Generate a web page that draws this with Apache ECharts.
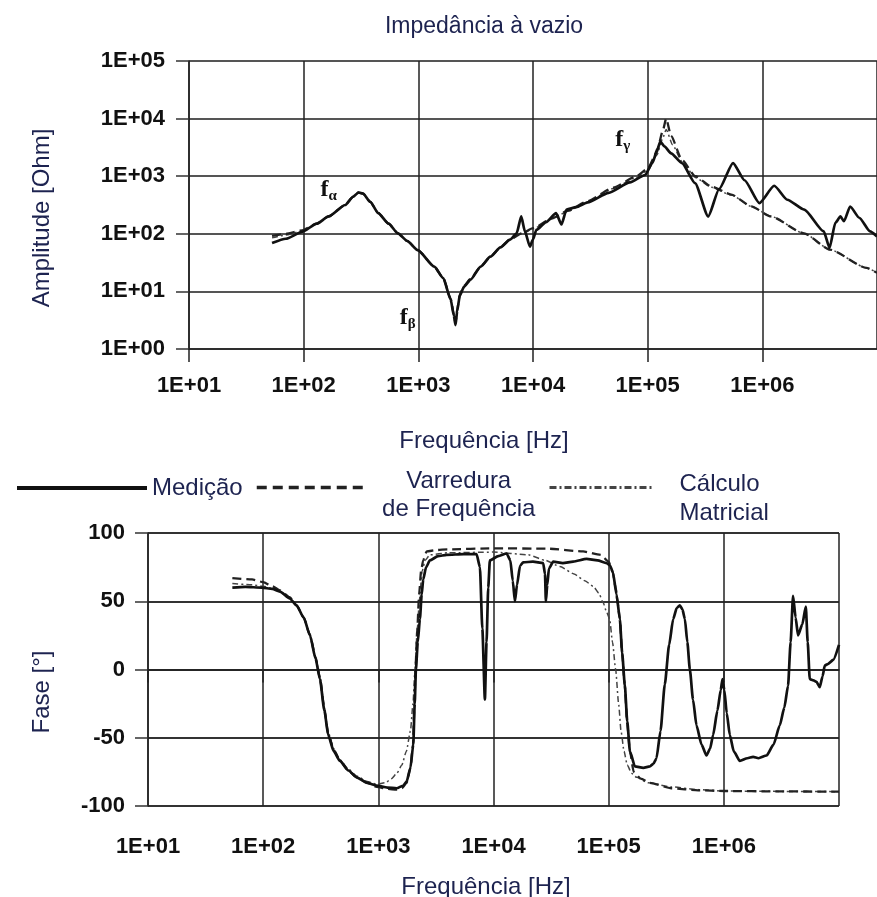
<!DOCTYPE html>
<html><head><meta charset="utf-8">
<script src="https://cdn.jsdelivr.net/npm/echarts@6/dist/echarts.min.js"></script>
<style>html,body{margin:0;padding:0;background:#fff}#c{width:877px;height:897px}</style>
</head><body><div id="c"></div>
<script>
// ---------- DATA (frequency in Hz) ----------
const seriesNames = ['Medição', 'Varredura de Frequência', 'Cálculo Matricial'];
const ampTicks = ['1E+00','1E+01','1E+02','1E+03','1E+04','1E+05'];
const freqTicks = ['1E+01','1E+02','1E+03','1E+04','1E+05','1E+06'];
const phaseTicks = [-100, -50, 0, 50, 100];

// Amplitude [Ohm] – Medição
const ampMedF = [53,70,97,130,165,230,270,300,330,380,447,550,664,800,988,1377,1650,1915,2040,2110,2180,2300,2500,2850,3500,4250,5200,6300,7200,7900,8500,9400,10000,10700,13000,15900,17700,19600,23800,30000,45700,70000,95000,110000,122000,129000,140000,160000,199000,259000,337000,420000,555000,700000,942000,1270000,1650000,2320000,3430000,3860000,4330000,4800000,5150000,5830000,7000000,8700000,10000000];
const ampMedV = [69,82,108,150,200,316,440,521,500,360,229,150,102,75,52,27,17,7.2,3.8,2.6,4.5,8.5,12,16,27,40,58,79,102,200,110,60,80,117,160,229,145,263,290,350,515,780,1050,1700,3000,4000,3300,2500,1690,760,200,600,1690,850,342,682,390,263,110,57,155,200,165,298,190,110,90];

// Amplitude – Varredura de Frequência
const ampVarF = [53,70,97,130,165,230,270,300,330,380,447,550,664,800,988,1377,1650,1915,2040,2110,2180,2300,2500,2850,3500,4250,5200,6300,8000,10000,15000,20000,30000,50000,80000,100000,120000,135000,145000,160000,199000,260000,360000,537000,800000,1190000,2300000,3900000,8100000,10000000];
const ampVarV = [92,100,115,150,200,316,440,521,500,360,229,150,102,75,52,27,17,7.5,4,2.8,4.8,8.8,12.5,16.5,27,40,58,80,102,125,190,250,370,630,1000,1350,2600,6000,10000,5000,1920,1000,660,480,300,200,102,53,25.6,21];

// Amplitude – Cálculo Matricial
const ampCalF = [53,70,97,130,165,230,270,300,330,380,447,550,664,800,988,1377,1650,1915,2040,2110,2180,2300,2500,2850,3500,4250,5200,6300,8000,10000,15000,20000,30000,50000,80000,100000,120000,135000,145000,165000,199000,260000,360000,537000,800000,1190000,2300000,3900000,8100000,10000000];
const ampCalV = [85,95,112,150,200,316,440,521,500,360,229,150,102,75,52,27,17,7.3,3.9,2.7,4.6,8.6,12.2,16.2,27,40,58,80,100,122,185,245,360,610,960,1250,2300,4500,6500,3500,1800,950,640,470,300,200,102,53,25.6,21];

// Fase [°] – Medição
const phMedF = [54,70,97,120,140,170,195,225,255,285,311,340,367,410,464,550,648,800,967,1200,1442,1650,1762,1900,2011,2070,2120,2200,2296,2380,2453,2600,2805,3300,3917,5500,7130,7620,8000,8420,8700,9000,9300,11000,13000,14000,14700,15350,16000,17000,18100,22000,27000,28000,28500,29300,30300,33000,40000,49200,64300,80000,96000,103000,109000,117000,125000,131000,138000,145000,153000,169000,200000,228000,245000,260000,282000,307000,335000,363000,390000,415000,437000,459000,482000,507000,540000,579000,640000,707000,760000,807000,880000,940000,973000,1010000,1060000,1127000,1220000,1377000,1600000,1796000,2000000,2350000,2700000,3060000,3350000,3610000,3800000,3990000,4200000,4410000,4800000,5150000,5350000,5570000,6000000,6370000,6800000,7200000,7530000,8000000,8900000,10000000];
const phMedV = [60,60.5,60,59,57,52,47,38,25,8,-7,-30,-48,-60,-67,-74,-79,-83,-85,-86.5,-87,-85,-82,-72,-55,-25,0,20,37,55,66,75,80,83,84,84.5,84.5,75,30,-22,20,60,80,83,85,80,65,50,62,76,78.5,79,78,70,50,62,74,79,78,79,81,80,78,76,71,55,37,12,-11,-38,-60,-71,-72,-71,-69,-65,-45,-11,18,37,45,47,44,37,20,0,-22,-41,-55,-63,-58,-48,-30,-15,-7,-15,-32,-48,-60,-67,-65,-64,-65,-63,-55,-41,-28,-12,20,54,38,25,33,46,20,-7,-8,-9,-13,-5,3,4,7,18];

// Fase – Varredura de Frequência
const phVarF = [54,80,100,120,140,170,195,225,255,285,311,340,367,410,464,550,648,800,967,1200,1442,1600,1760,1900,2000,2060,2100,2180,2260,2350,2450,2630,3200,4000,10000,30000,60000,85000,100000,108000,115000,120000,125000,131000,138000,145000,153000,165000,190000,228000,350000,600000,1000000,3000000,10000000];
const phVarV = [67,66,64,61,58,53,47,38,25,9,-6,-29,-47,-59,-67,-74,-79,-83,-86,-87.5,-88,-87,-83,-72,-55,-25,0,30,55,72,80,86.5,87.5,88,88.8,88.5,86.5,84,79,72,60,48,37,12,-12,-40,-60,-75,-80,-83,-87,-88.5,-89,-89.3,-89.5];

// Fase – Cálculo Matricial
const phCalF = [54,80,100,120,140,170,195,225,255,285,311,340,367,410,464,550,648,800,967,1150,1300,1450,1600,1750,1900,2000,2080,2180,2280,2400,2550,2800,4000,10000,20000,28000,37700,50000,62000,73500,82000,89600,96000,102000,108000,115000,122000,128000,136000,145000,158000,175000,220000,350000,600000,1000000,3000000,10000000];
const phCalV = [63,62,61,59.5,57,52,47,38,26,9,-5,-28,-46,-58,-66,-73,-78,-82,-84,-83,-80,-76,-70,-60,-45,-25,0,30,52,72,80,84,85.5,86,84,80,75.5,70,65,61,56,49,42,37,20,0,-25,-45,-60,-70,-76,-79,-83,-86,-88,-89,-89.3,-89.5];

// Annotations (frequency, amplitude, subscript)
const annF = [165, 809, 60500];
const annV = [580, 3.5, 4270];
const annSub = ['α', 'β', 'γ'];

// ---------- BUILD ----------
const zip = (a, b) => a.map((v, i) => [v, b[i]]);
const FONT = 'Liberation Sans, Arial, sans-serif';
const NAVY = '#1d2350';
const styles = [
  {color: '#111', width: 2.7, type: 'solid'},
  {color: '#222', width: 2.3, type: [9, 5]},
  {color: '#444', width: 1.5, type: [6, 3, 2, 3]}
];
const logLabel = v => '1E+' + String(Math.round(Math.log10(v))).padStart(2, '0');

function xAxis(gi, margin) {
  return {
    type: 'log', logBase: 10, gridIndex: gi, min: 10, max: 1e7,
    axisLine: {show: true, lineStyle: {color: '#222', width: 1.5}},
    axisTick: {show: true, length: 13, lineStyle: {color: '#222', width: 1.5}},
    axisLabel: {formatter: logLabel, fontSize: 22, fontWeight: 'bold', fontFamily: FONT, color: '#111', margin: margin, showMaxLabel: false},
    splitLine: {show: true, lineStyle: {color: '#222', width: 1.5}},
    minorTick: {show: false}, minorSplitLine: {show: false}
  };
}

const mk = (name, data, xi, si) => ({
  name, type: 'line', xAxisIndex: xi, yAxisIndex: xi, data,
  symbol: 'none', smooth: 0.2, smoothMonotone: 'x', lineStyle: styles[si],
  itemStyle: {color: styles[si].color}, z: 10 - si, clip: true
});

const legendItemStyle = {opacity: 0, color: 'transparent', borderWidth: 0};

const option = {
  animation: false,
  backgroundColor: '#fff',
  grid: [
    {left: 189, top: 61, width: 695, height: 288},
    {left: 148, top: 533, width: 691, height: 273}
  ],
  xAxis: [xAxis(0, 26), xAxis(1, 30)],
  yAxis: [
    {
      type: 'log', logBase: 10, gridIndex: 0, min: 1, max: 1e5,
      axisLine: {show: true, lineStyle: {color: '#222', width: 1.5}},
      axisTick: {show: true, length: 13, lineStyle: {color: '#333', width: 1.5}},
      axisLabel: {formatter: logLabel, fontSize: 22, fontWeight: 'bold', fontFamily: FONT, color: '#111', margin: 24},
      splitLine: {show: true, lineStyle: {color: '#555', width: 2}},
      minorTick: {show: false}, minorSplitLine: {show: false}
    },
    {
      type: 'value', gridIndex: 1, min: phaseTicks[0], max: phaseTicks[phaseTicks.length - 1], interval: 50,
      axisLine: {show: true, lineStyle: {color: '#222', width: 1.5}},
      axisTick: {show: true, length: 13, lineStyle: {color: '#333', width: 1.5}},
      axisLabel: {fontSize: 22, fontWeight: 'bold', fontFamily: FONT, color: '#111', margin: 23},
      splitLine: {show: true, lineStyle: {color: '#333', width: 1.8}}
    }
  ],
  legend: [
    {left: 10, top: 471, itemWidth: 130, itemHeight: 14, data: [seriesNames[0]], selectedMode: false,
     textStyle: {fontSize: 24, fontFamily: FONT, color: NAVY},
     itemStyle: legendItemStyle,
     lineStyle: {width: 4, color: '#111', type: 'solid', opacity: 1}},
    {left: 250, top: 454, itemWidth: 110, itemHeight: 14, data: [seriesNames[1]], selectedMode: false,
     formatter: () => '{e| }\n{c|Varredura}\n{c|de Frequência}',
     textStyle: {fontSize: 24, fontFamily: FONT, color: NAVY,
       rich: {e: {fontSize: 1, lineHeight: 16}, c: {fontSize: 24, fontFamily: FONT, color: NAVY, lineHeight: 28, width: 174, align: 'center'}}},
     itemStyle: legendItemStyle,
     lineStyle: {width: 3.5, color: '#222', type: [10, 6], opacity: 1}},
    {left: 543, top: 453, itemWidth: 105, itemHeight: 14, data: [seriesNames[2]], selectedMode: false,
     formatter: () => '{e| }\n{d|Cálculo}\n{d|Matricial}',
     textStyle: {fontSize: 24, fontFamily: FONT, color: NAVY,
       rich: {e: {fontSize: 1, lineHeight: 23}, d: {fontSize: 24, fontFamily: FONT, color: NAVY, lineHeight: 29, padding: [0, 0, 0, 20]}}},
     itemStyle: legendItemStyle,
     lineStyle: {width: 3, color: '#444', type: [7, 3, 2, 3], opacity: 1}}
  ],
  graphic: [
    {type: 'text', x: 484, y: 27, style: {text: 'Impedância à vazio', fontSize: 23, fontFamily: FONT, fill: NAVY, align: 'center', verticalAlign: 'middle'}},
    {type: 'text', x: 484, y: 441, style: {text: 'Frequência [Hz]', fontSize: 24, fontFamily: FONT, fill: NAVY, align: 'center', verticalAlign: 'middle'}},
    {type: 'text', x: 486, y: 887, style: {text: 'Frequência [Hz]', fontSize: 24, fontFamily: FONT, fill: NAVY, align: 'center', verticalAlign: 'middle'}},
    {type: 'text', x: 42, y: 218, rotation: Math.PI / 2, style: {text: 'Amplitude [Ohm]', fontSize: 24, fontFamily: FONT, fill: NAVY, align: 'center', verticalAlign: 'middle'}},
    {type: 'text', x: 42, y: 692, rotation: Math.PI / 2, style: {text: 'Fase [°]', fontSize: 24, fontFamily: FONT, fill: NAVY, align: 'center', verticalAlign: 'middle'}}
  ],
  series: [
    mk(seriesNames[2], zip(ampCalF, ampCalV), 0, 2),
    mk(seriesNames[1], zip(ampVarF, ampVarV), 0, 1),
    mk(seriesNames[0], zip(ampMedF, ampMedV), 0, 0),
    mk(seriesNames[2], zip(phCalF, phCalV), 1, 2),
    mk(seriesNames[1], zip(phVarF, phVarV), 1, 1),
    mk(seriesNames[0], zip(phMedF, phMedV), 1, 0),
    {
      type: 'scatter', xAxisIndex: 0, yAxisIndex: 0, symbolSize: 1, itemStyle: {color: 'rgba(0,0,0,0)'}, z: 20,
      silent: true,
      data: annF.map((f, i) => [f, annV[i], annSub[i]]),
      label: {
        show: true, position: 'inside', opacity: 1,
        formatter: p => '{f|f}{s|' + p.data[2] + '}',
        rich: {
          f: {fontFamily: 'Liberation Serif, serif', fontWeight: 'bold', fontSize: 24, color: '#111', lineHeight: 28},
          s: {fontFamily: 'Liberation Serif, serif', fontWeight: 'bold', fontSize: 15, color: '#111', lineHeight: 10, verticalAlign: 'bottom'}
        }
      }
    }
  ]
};
const chart = echarts.init(document.getElementById('c'), null, {renderer: 'canvas'});
chart.setOption(option);
</script></body></html>
